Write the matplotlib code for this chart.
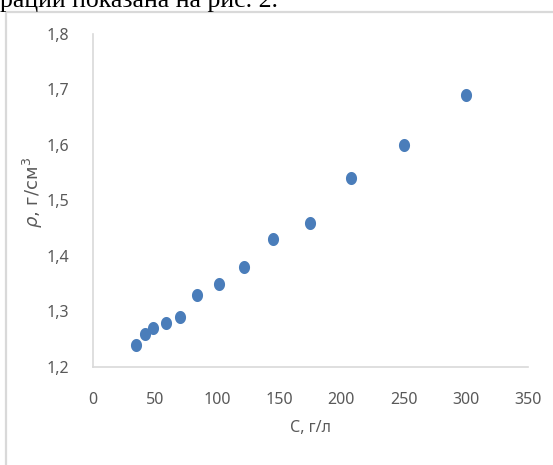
import matplotlib.pyplot as plt
import numpy as np
from matplotlib.path import Path
from matplotlib.lines import Line2D

# концентрация, г/л и плотность, г/см3
conc = [35, 42, 49, 59, 70, 84, 102, 122, 145, 175, 208, 250, 300]
density = [1.24, 1.26, 1.27, 1.28, 1.29, 1.33, 1.35, 1.38, 1.43, 1.46, 1.54, 1.60, 1.69]

x_ticks = [0, 50, 100, 150, 200, 250, 300, 350]
y_ticks = [1.2, 1.3, 1.4, 1.5, 1.6, 1.7, 1.8]
y_tick_labels = ["1,2", "1,3", "1,4", "1,5", "1,6", "1,7", "1,8"]

gray = "#595959"
line_gray = "#D9D9D9"
label_style = dict(family="Noto Sans", fontsize=11.5, color=gray)

# slightly tall elliptical marker
t = np.linspace(0, 2 * np.pi, 60)
ellipse = Path(np.column_stack([0.85 * np.cos(t), np.sin(t)]), closed=True)

fig = plt.figure(figsize=(5.53, 4.65), dpi=100)
ax = fig.add_axes([0.1673, 0.2108, 0.7875, 0.7161])

ax.plot(conc, density, linestyle="none", marker=ellipse, markersize=9.4,
        color="#4A7DBA", markeredgewidth=0)

ax.set_xlim(0, 350)
ax.set_ylim(1.2, 1.8)
ax.set_xticks(x_ticks)
ax.set_xticklabels([str(v) for v in x_ticks], **label_style)
ax.set_yticks(y_ticks)
ax.set_yticklabels(y_tick_labels, **label_style)
ax.tick_params(axis="both", length=0)
ax.tick_params(axis="x", pad=18)
ax.tick_params(axis="y", pad=17)

for side in ("top", "right"):
    ax.spines[side].set_visible(False)
for side in ("left", "bottom"):
    ax.spines[side].set_color(line_gray)
    ax.spines[side].set_linewidth(1.2)

ax.set_xlabel("С, г/л", labelpad=9, **label_style)
fig.text(33 / 553, 1 - 193 / 465, r"$\rho$, г/см$^3$", rotation=90,
         ha="center", va="center", fontsize=13, color=gray)

# chart frame (left and top edges)
fig.add_artist(Line2D([6 / 553, 6 / 553, 1.01], [-0.01, 1 - 12 / 465, 1 - 12 / 465],
                      transform=fig.transFigure, color=line_gray, linewidth=1.6))

# surrounding document text
fig.text(0, 1 - 7 / 465, "рации показана на рис. 2.", family="Liberation Serif",
         fontsize=18.5, ha="left", va="baseline", color="black")

fig.savefig("out.png", dpi=100)
